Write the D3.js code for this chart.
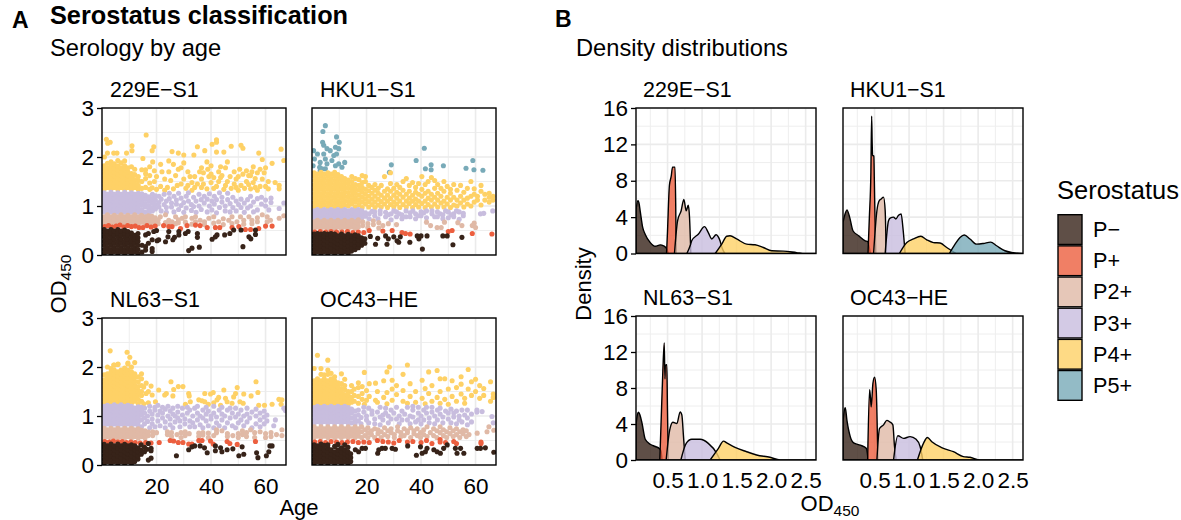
<!DOCTYPE html>
<html>
<head>
<meta charset="utf-8">
<script src="https://cdn.jsdelivr.net/npm/d3@7"></script>
<style>
body { margin: 0; background: white; }
text { font-family: "Liberation Sans", Arial, sans-serif; fill: #000; }
</style>
</head>
<body>
<div id="chart"></div>
<script>
const classNames = ["P−", "P+", "P2+", "P3+", "P4+", "P5+"];
const pointColors = ["#372319", "#EC5F3F", "#E0B9A6", "#C8BDDE", "#FED166", "#78AAB8"];
const facetNames = ["229E−S1", "HKU1−S1", "NL63−S1", "OC43−HE"];

// scatter rows are [age, od, od, ...]
const e229Neg = [[.8,.03,.11,.2,.28,.37,.45,.52],[2,.07,.15,.24,.32,.41,.49],[3.3,.03,.11,.2,.28,.37,.45,.52],[4.5,.07,.15,.24,.32,.41,.49],[5.8,.03,.11,.2,.28,.37,.45,.52],[7,.07,.15,.24,.32,.41,.49],[8.3,.03,.11,.2,.28,.37,.45,.51],[9.5,.07,.15,.24,.32,.41,.48],[10.8,.03,.11,.2,.28,.37,.45],[12,.07,.15,.24,.32,.4],[13.2,.03,.11,.2,.28,.35,.44],[14.7,.2,.06],[16,.41,.17,.1],[17,.44,.24],[18.4,.31,.07,.13],[19,.48],[20,.5],[20.2,.29],[20.8,.31],[23.3,.27],[24.5,.48],[24.2,.37],[26,.31],[26.6,.36],[28.2,.48,.41],[30.6,.44],[31.6,.48],[31.8,.09],[33,.14],[35,.44,.36],[35.7,.16],[40.4,.32],[41.6,.37],[42.2,.41],[45,.41],[46.9,.44],[48.3,.51],[51,.51],[51.7,.17],[53.9,.37],[54.6,.33],[56.3,.51,.42]];
const e229Pos = [[1,.58],[2.4,.6],[3.8,.57],[5.2,.59],[6.6,.61],[8,.57],[9.4,.6],[10.8,.58],[12.2,.59],[13.6,.56],[15,.56],[16.5,.6],[18,.57],[19.5,.59],[22.6,.6],[24.5,.58],[25.7,.58],[28.8,.54],[31.2,.6],[34.3,.61],[36,.6],[38.6,.56],[41.6,.56],[43.2,.56],[47.7,.56],[50.2,.58],[52.6,.52],[54.5,.52],[57.5,.54],[60,.59],[62.4,.59]];
const e229P2 = [[.8,.64,.71,.78],[2,.67,.74,.82],[3.3,.64,.71,.78],[4.5,.67,.74,.81],[5.8,.64,.71,.78],[7,.67,.74,.82],[8.3,.64,.71,.78],[9.5,.67,.74,.81],[10.8,.64,.71,.78],[12,.67,.74,.82],[13.3,.64,.71,.78],[14.5,.67,.74,.81],[15.8,.64,.71,.78],[17,.67,.74,.8],[18.3,.65,.72,.79],[19.5,.68,.76],[20.6,.64,.72],[21.4,.78],[23.3,.82,.66],[24.5,.71,.62],[25.7,.68],[27,.78,.64],[28,.66,.72],[29.4,.75],[30.6,.78,.67],[33,.75,.63],[34.3,.68,.78],[36,.71],[37.6,.68,.62],[39.2,.75],[41,.78,.65],[42.8,.68],[44.5,.62,.74],[46.5,.71],[47.7,.78,.64],[49.5,.68],[50.8,.78],[52,.71,.63],[53.9,.78],[55,.71,.64],[57,.68,.76],[58.8,.82],[60.6,.78,.68],[61.8,.71],[65,.75],[66.7,.8]];
const e229P3 = [[.8,.88,.96,1.04,1.12,1.2,1.27],[2,.84,.92,1,1.08,1.16,1.24],[3.3,.88,.96,1.04,1.12,1.2,1.28],[4.5,.84,.92,1,1.08,1.16,1.24],[5.8,.88,.96,1.04,1.12,1.2,1.27],[7,.84,.92,1,1.08,1.16,1.24],[8.3,.88,.96,1.04,1.12,1.2,1.28],[9.5,.84,.92,1,1.08,1.16,1.24],[10.8,.88,.96,1.04,1.12,1.2,1.27],[12,.84,.92,1,1.08,1.16,1.24],[13.3,.88,.96,1.04,1.12,1.2,1.26],[14.6,.84,.93,1.02,1.09,1.17,1.25],[15.9,.87,.98,1.05,1.14,1.22],[17.2,.85,.92,1.01,1.1,1.19],[18.5,.9,.97,1.06,1.15,1.24],[19.6,.94,1.03,1.12,1.21],[20.9,.98,1.07,1.2],[21.7,.9,1.14],[22.8,1.03,1.24],[23.6,.87,1.1,.97],[24.7,1.15,1.26],[25.5,.98,1.06],[26.4,.88,1.2],[27.3,1.04,1.12],[28.1,.93,1.26],[29,1.16,1.01],[30,.87,1.07],[30.9,1.2,.96],[31.7,1.1,1.27],[32.8,.91,1.03],[33.6,1.18,.99],[34.5,.87,1.1],[35.6,1.24,1],[36.4,.93,1.13],[37.5,1.06,1.2],[38.6,.88,1.14],[39.4,1,1.25],[40.3,.92,1.1],[41.2,1.2,1.04],[42,.86,1.13],[43.1,.97,1.27],[44,1.08,1.18],[45.2,.9,1],[46.1,1.13,1.26],[47,.88,1.05],[48,1.18,.97],[49.2,.9,1.1],[50.1,1.03],[51,1.14,.97],[52.2,.87,1.06],[53.4,1.13,.96],[54.5,1.2,1],[55.6,1.08,.88],[57,.92,1.15],[58.5,1.04,1.18],[60,1,1.12],[61.2,.92],[62,1.07,1.16],[65,.95],[66.7,1.06]];
const e229P4 = [[.8,1.34,1.42,1.5,1.58,1.66,1.74,1.82],[2,1.38,1.46,1.54,1.62,1.7,1.78,1.87],[3.3,1.34,1.42,1.5,1.58,1.66,1.74,1.82,1.9],[4.5,1.38,1.46,1.54,1.62,1.7,1.78,1.86],[5.8,1.34,1.42,1.5,1.58,1.66,1.74,1.82,1.93],[7,1.38,1.46,1.54,1.62,1.7,1.78,1.88],[8.3,1.34,1.42,1.5,1.58,1.66,1.74,1.82,1.92],[9.5,1.38,1.46,1.54,1.62,1.7,1.78],[10.8,1.34,1.42,1.5,1.58,1.66,1.8],[12,1.38,1.46,1.54,1.64,1.75],[13.3,1.34,1.42,1.52,1.6],[14.6,1.36,1.5,1.74],[16,1.38,1.74,1.56,1.66],[17.5,1.34,1.47,1.62,1.8],[1.6,2.36],[2.1,2.28],[3,2.3],[11,2.23,2.13],[16.2,2.45],[19,2.21],[18.4,2.13,1.37],[9,2.08],[5.5,2.08],[4.3,2.08],[2,2.08],[.9,2],[15,1.97],[18.6,1.9],[20,1.34,1.6],[21.5,1.4,1.85],[23,1.55,1.32],[24.5,1.7,1.92],[25.7,2.11],[26.2,1.85,1.35],[27,1.62],[28,2.08,1.75],[29,1.45,1.78],[30,2.04,1.55,1.88],[31.5,1.42,1.7],[32.3,1.6],[33,1.32,1.48],[33.7,2.04],[35,2.21,1.45],[35.8,1.7],[36.5,1.38,1.78,1.55],[37.7,2.13],[38.5,1.35,1.9],[39.2,1.6],[40,1.48,1.82,1.65],[40.4,2.26],[42,2.35,2.3,2.1,1.4],[43.5,1.58,1.8],[44.7,2.1,1.34],[46,1.5,1.9],[47.4,2.22,1.36],[48.5,1.7,1.45],[50,1.6,1.32],[51,2.24,1.42],[51.7,2.18,1.65],[53,1.72,1.5],[54.5,1.35,1.62],[55.5,1.8,1.48],[57,1.32,1.68],[57.5,2.08],[58.8,1.95,1.55],[60,1.4,1.78],[62.4,1.87],[63.5,1.48],[65,1.35,1.42],[65.7,2.16],[66.7,1.93],[19.2,1.72,1.5],[22,1.7],[24,1.38],[25.2,1.52],[27.6,1.42],[30.8,1.36],[34,1.6,1.38],[37.2,1.45,1.68],[38.8,1.75],[41,1.36,1.58],[42.8,1.7,1.5],[44,1.62],[45.3,1.42,1.78],[47,1.6],[49.2,1.55,1.38],[50.5,1.75],[52.3,1.36],[53.8,1.62,1.44],[55,1.7],[56.2,1.38,1.56],[58,1.4,1.75],[59.5,1.68],[61,1.5,1.35]];

const hkuNeg = [[.8,.03,.11,.19,.27,.35,.43],[2,.07,.15,.23,.31,.39,.44],[3.3,.03,.11,.19,.27,.35,.43],[4.5,.07,.15,.23,.31,.39,.44],[5.8,.03,.11,.19,.27,.35,.43],[7,.07,.15,.23,.31,.39,.44],[8.3,.03,.11,.19,.27,.35,.43],[9.5,.07,.15,.23,.31,.39],[10.8,.03,.11,.19,.27,.35,.43],[12,.07,.15,.23,.31,.39],[13.3,.04,.11,.19,.27,.35,.42],[14.5,.08,.15,.23,.31,.39],[15.8,.11,.19,.27,.35,.41],[17,.15,.23,.31,.39],[18.2,.2,.27,.35],[19.4,.24,.33],[21.4,.38],[23.3,.22],[24.1,.34],[27,.39],[27.5,.22],[28,.33],[30,.37],[31.2,.29],[31.8,.26],[32.4,.37],[35.9,.26],[38.6,.39],[39.2,.33],[40,.39],[40.5,.12],[42.2,.39],[48,.39],[49.6,.39],[51.7,.21],[55,.36]];
const hkuPos = [[1,.47],[3,.48],[5,.47],[7,.48],[9,.47],[11,.47],[13,.48],[15,.46],[17,.47],[19,.46],[21,.5],[26,.49],[29.4,.5],[33,.46],[34.3,.44],[36,.43],[50,.48],[51.4,.5],[58.8,.44],[66,.43]];
const hkuP2 = [[.8,.54,.61,.68],[2,.57,.64,.71],[3.3,.54,.61,.68],[4.5,.57,.64,.71],[5.8,.54,.61,.68],[7,.57,.64,.71],[8.3,.54,.61,.68],[9.5,.57,.64,.71],[10.8,.54,.61,.68],[12,.57,.64,.71],[13.3,.54,.61,.68],[14.6,.57,.64,.71],[15.8,.54,.61,.68],[17,.57,.66,.72],[18.6,.6,.68],[20.5,.56,.64],[22.5,.62,.7],[24.5,.55,.66],[26,.6],[28,.64],[31,.62],[42,.67],[43.5,.6],[45.9,.56],[47.4,.56],[48.6,.67],[53.5,.66],[55,.6],[58.8,.6],[60,.56],[59.5,.65]];
const hkuP3 = [[.8,.76,.83,.9],[2,.79,.86,.93],[3.3,.76,.83,.9],[4.5,.79,.86,.93],[5.8,.76,.83,.9],[7,.79,.86,.93],[8.3,.76,.83,.9],[9.5,.79,.86,.93],[10.8,.76,.83,.9],[12,.79,.86,.93],[13.3,.76,.83,.9],[14.6,.79,.86,.93],[15.8,.76,.83,.9],[17,.79,.86,.93],[18.3,.76,.83,.9],[19.6,.79,.86],[21,.74,.84],[22,.89],[23,.8,.88],[24.2,.74],[25,.84,.9],[27,.78,.87],[28,.82],[29,.72,.84],[30,.9],[31,.88,.78],[32,.84],[33,.82,.74],[34.5,.9,.78],[36,.78,.86],[37,.9],[38,.84,.74],[39,.8],[40,.88,.8],[41,.86],[42,.76,.9],[44,.84,.9],[45,.78],[46,.78,.88],[47,.84],[48,.82,.74],[49,.9],[50,.88,.76],[51,.82],[52,.84,.78],[53,.9],[54,.88,.73],[55.5,.8,.85],[61.8,.84],[63,.85],[66.3,.9]];
const hkuP4 = [[.8,.98,1.07,1.16,1.25,1.34,1.43,1.52,1.61,1.68],[2,1.02,1.11,1.2,1.29,1.38,1.47,1.56,1.65],[3.3,.98,1.07,1.16,1.25,1.34,1.43,1.52,1.61,1.69],[4.5,1.02,1.11,1.2,1.29,1.38,1.47,1.56,1.65],[5.8,.98,1.07,1.16,1.25,1.34,1.43,1.52,1.61,1.68],[7,1.02,1.11,1.2,1.29,1.38,1.47,1.56,1.65],[8.3,.98,1.07,1.16,1.25,1.34,1.43,1.52,1.61,1.69],[9.5,1.02,1.11,1.2,1.29,1.38,1.47,1.56,1.64],[10.8,.98,1.07,1.16,1.25,1.34,1.43,1.52,1.6],[12,1.02,1.11,1.2,1.29,1.38,1.47,1.56],[13.3,1,1.09,1.18,1.27,1.36,1.45,1.53],[14.6,1.04,1.13,1.22,1.31,1.4,1.5,1.6],[15.9,.98,1.08,1.17,1.26,1.35,1.44,1.56],[17.2,1.03,1.12,1.22,1.32,1.42,1.54],[18.4,.97,1.08,1.18,1.28,1.38,1.48,1.62],[19.6,1.04,1.14,1.24,1.34,1.5,1.6],[20.8,.98,1.09,1.2,1.31,1.42],[22,1.03,1.14,1.26,1.38],[23.1,.97,1.08,1.2,1.32,1.44],[24.3,1.02,1.14,1.26,1.36],[25.4,.98,1.09,1.22,1.42],[26.6,1.04,1.16,1.3,1.6],[27.7,.97,1.1,1.22,1.35],[28.8,1.03,1.15,1.3,1.46,1.68],[30,.98,1.08,1.22,1.36],[31.1,1.04,1.16,1.28,1.44],[32.2,.97,1.1,1.24,1.38],[33.4,1.03,1.18,1.32,1.5],[34.6,.98,1.1,1.24,1.56],[35.7,1.05,1.16,1.3,1.42],[36.9,.97,1.1,1.22,1.48],[38,1.03,1.14,1.28,1.38],[39.1,.98,1.1,1.24,1.46],[40.3,1.05,1.2,1.34,1.6],[41.5,.97,1.1,1.26,1.44],[42.6,1.03,1.16,1.3,1.5],[43.8,.98,1.12,1.24,1.58],[45,1.04,1.18,1.36,1.52],[46.1,.98,1.12,1.26,1.44],[47.3,1.06,1.2,1.36],[48.4,.98,1.1,1.3,1.5],[49.6,1.04,1.18,1.4],[50.8,.97,1.12,1.26,1.34],[52,1.02,1.18,1.44],[53.2,1,1.12,1.32],[54.5,1.06,1.2,1.42],[55.7,.98,1.12,1.28],[57,1.04,1.16,1.36],[58.3,1,1.2,1.5],[59.5,1.08,1.24,1.35],[60.7,1.12,1.2],[62,1.02,1.3,1.42],[63.4,1.12,1.24],[65,1.08,1.26,1.18],[66.4,1.12,1.2]];
const hkuP5 = [[4.9,2.64,1.96,1.76],[4,2.52],[9,2.41],[3.9,2.3],[4.3,2.24,2.06],[10,2.3],[5.5,2.17,1.86],[6.7,2.13],[8.6,2.2,1.82],[9.8,2.17,1.86],[.6,2.13],[2,2.06],[8,2.03],[9,2.06],[.9,1.96],[7.3,1.93],[3,1.89,1.72],[.4,1.82],[2.8,1.79],[3.7,1.76],[12,1.89],[11,1.79],[29.1,1.84],[28.4,1.69],[38.2,1.93],[41.2,2.18],[43.7,1.84,1.74],[41.6,1.76],[48.2,1.82],[56.5,1.77],[59,1.93],[59.4,1.74],[62.7,1.73]];

const nlNeg = [[.8,.03,.11,.19,.27,.35,.42],[2,.07,.15,.23,.31,.39],[3.3,.03,.11,.19,.27,.35,.43],[4.5,.07,.15,.23,.31,.39],[5.8,.03,.11,.19,.27,.35,.43],[7,.07,.15,.23,.31,.39],[8.3,.03,.11,.19,.27,.35,.42],[9.5,.07,.15,.23,.31,.39],[10.8,.03,.11,.19,.27,.35,.41],[12,.07,.15,.23,.31,.39],[13.2,.12,.19,.27,.35],[14.4,.22,.3,.41],[15.6,.27,.36],[16.5,.32],[17,.44,.1],[18,.34,.29,.14],[27.3,.19],[31.8,.31],[33,.37],[34,.39],[36,.39],[37.6,.35],[38.6,.25],[41.6,.39,.29],[43.5,.35],[44,.27],[45.9,.31],[48,.33],[50.2,.19],[51.4,.37],[52,.22],[56.7,.25],[57.2,.15],[60.3,.19],[61.2,.27],[61.6,.39],[62.4,.39]];
const nlPos = [[1,.48],[2.6,.47],[4.2,.49],[5.8,.47],[7.4,.48],[9,.46],[10.6,.47],[12.2,.46],[14,.45],[16,.46],[18,.45],[21,.46],[25,.5],[26.3,.49],[28,.46],[29.7,.46],[31.8,.43],[33,.43],[35.5,.5],[36.7,.5],[39.8,.49],[40.8,.43],[45.9,.48],[46.9,.44],[49.6,.42],[56.3,.48]];
const nlP2 = [[.8,.55,.62,.69,.75],[2,.58,.65,.72],[3.3,.55,.62,.69,.75],[4.5,.58,.65,.72],[5.8,.55,.62,.69,.75],[7,.58,.65,.72],[8.3,.55,.62,.69,.75],[9.5,.58,.65,.72],[10.8,.55,.62,.69,.75],[12,.58,.65,.72],[13.3,.55,.62,.69,.74],[14.6,.58,.65,.71],[15.8,.55,.62,.7],[17,.6,.67],[18.6,.6,.68],[20,.66],[24,.62,.68],[25.5,.66,.58],[27.5,.62],[29,.56,.66],[30.5,.68,.6],[32,.64],[35.5,.58,.65],[37,.66,.61],[39,.65,.56],[41,.6],[42,.72,.66],[44,.7],[46,.58,.64],[48,.6],[50,.64,.56],[51.5,.7,.62],[53,.66,.58],[54.5,.72],[56,.66,.56],[58,.68],[60,.56,.64],[62,.58,.66],[64,.62],[66,.72,.6]];
const nlP3 = [[.8,.8,.88,.96,1.04,1.12,1.2],[2,.84,.92,1,1.08,1.16,1.22],[3.3,.8,.88,.96,1.04,1.12,1.2],[4.5,.84,.92,1,1.08,1.16,1.23],[5.8,.8,.88,.96,1.04,1.12,1.2],[7,.84,.92,1,1.08,1.16,1.23],[8.3,.8,.88,.96,1.04,1.12,1.2],[9.5,.84,.92,1,1.08,1.16,1.22],[10.8,.8,.88,.96,1.04,1.12,1.2],[12,.84,.92,1,1.08,1.16],[13.3,.8,.88,.96,1.04,1.12,1.19],[14.5,.78,.92,1.02,1.1,1.18],[15.6,.84,.96,1.06,1.16],[16.7,.89,1],[17.5,.76,1.1,1.2],[18.4,.84,.94,1.04],[19.4,.78,1.12,1.18],[20.5,.9,1.02,1.22],[21.3,.8,1.1],[22.2,.96,1.18,1.06],[23.2,.76,.88,1.14],[24.2,1,1.2],[25,.82,.94,1.1],[26,.76,1.04,1.16],[26.8,.88,1],[27.8,.96,1.2,1.08],[28.6,.78,.9],[29.5,1.02,1.16],[30.4,.84,.94],[31.3,1.06,1.18],[32.2,.78,.9,1.12],[33.3,.86,1],[34,1.16,.78],[35,.92,1.06,1.2],[36,.82,1],[37,.96,1.12,.76],[38.2,.9,1.04,1.18],[39,.8,1.1],[40,.94,1],[41,.76,1.06,1.2],[42,.86,.98],[43,.8,1.12],[44,.92,1.04,1.18],[45,.76,1],[46,.86,1.12],[47,.96,1.16],[47.8,.8,1.06],[49,.76,.98,1.16],[50,.86,1.04],[51,.92,1.12],[52,.8,1],[53.2,.88,1.04,1.16],[54.2,.96],[55,.76,1.08],[56.5,.84,1,1.14],[58,.78,.92,1.06],[59.5,.84,.98,1.1],[60.5,.9,1.02],[63,.8],[63.6,.92],[66.7,1.16],[67.3,1.11]];
const nlP4 = [[.8,1.26,1.34,1.42,1.5,1.58,1.66,1.74,1.84],[2,1.3,1.38,1.46,1.54,1.62,1.7,1.78,1.86,2],[3.3,1.26,1.34,1.42,1.5,1.58,1.66,1.74,1.82,1.9,1.97],[4.5,1.3,1.38,1.46,1.54,1.62,1.7,1.78,1.86,1.94,2.04],[5.8,1.26,1.34,1.42,1.5,1.58,1.66,1.74,1.82,1.9,2.05],[7,1.3,1.38,1.46,1.54,1.62,1.7,1.78,1.86,1.94],[8.3,1.26,1.34,1.42,1.5,1.58,1.66,1.74,1.82,1.9,1.98],[9.5,1.3,1.38,1.46,1.54,1.62,1.7,1.78,1.86,1.94,2.06],[10.8,1.26,1.34,1.42,1.5,1.58,1.66,1.74,1.82,1.9,2],[12,1.3,1.38,1.46,1.54,1.62,1.7,1.78,1.86,2.09],[13.3,1.25,1.34,1.44,1.52,1.6,1.7,1.8],[14.5,1.3,1.42,1.5,1.62,1.76,1.86],[3,2.33],[9.2,2.3],[10.2,2.2],[9.5,2.08],[4.3,2.04],[5.9,2.06],[16.2,1.67,1.46],[15.3,1.59,1.25],[17,1.27,1.5],[18,1.61],[18.4,1.43],[19.6,1.29],[20.8,1.53],[23,1.43],[23.6,1.46],[25.3,1.7],[26.3,1.54],[26,1.41],[28,1.6],[29.7,1.6],[31.8,1.46],[32,1.41],[30.6,1.24],[32.4,1.29],[35.5,1.33],[36.7,1.31],[37.7,1.46,1.29],[39.8,1.45],[39,1.24],[40.8,1.48],[41,1.27],[42.2,1.33],[42.8,1.38],[44.7,1.53],[43.5,1.22],[45.3,1.36],[45.9,1.29],[48.3,1.39],[49,1.46],[49.6,1.58],[47.7,1.26],[50.6,1.29],[52,1.45],[51.8,1.26],[54.7,1.41],[56.5,1.7],[57.2,1.48],[57.5,1.22],[59.6,1.22],[62.4,1.24],[64.9,1.34],[66,1.33],[65.7,1.24]];

const ocNeg = [[.8,.03,.11,.19,.27,.35,.41],[2,.07,.15,.23,.31,.39],[3.3,.03,.11,.19,.27,.35,.43],[4.5,.07,.15,.23,.31,.4],[5.8,.03,.11,.19,.27,.35,.41],[7,.07,.15,.23,.31],[8.3,.03,.11,.19,.27,.38],[9.5,.07,.15,.23,.31,.42],[10.8,.03,.11,.19,.27,.35],[12,.07,.15,.23,.31,.41],[13.2,.03,.1,.19,.27,.36],[14.2,.07,.15,.23],[15.9,.31],[17.1,.27],[18.4,.34],[19.6,.34],[24.5,.31],[24.1,.24],[25.7,.34],[26.9,.34],[29.4,.34],[30.6,.32],[35.1,.39],[38.3,.2],[39.8,.37],[40.4,.24],[41.6,.27],[42.2,.34],[44.7,.31],[45.9,.27],[47.1,.24],[48.3,.34],[49.6,.41],[52.6,.34],[53.2,.24],[54.5,.34],[55.7,.24],[60.6,.34],[61.8,.34],[63.6,.35],[66.7,.26]];
const ocPos = [[1,.47],[3,.48],[5,.46],[7,.48],[9,.47],[11,.46],[13,.47],[15,.48],[17,.46],[19,.47],[21,.46],[24,.5],[26,.48],[28,.47],[30,.45],[32,.5],[35,.47],[37,.48],[40,.46],[42,.5],[44,.44],[47,.52,.47],[49,.46],[52,.48],[53,.44],[62,.47,.44]];
const ocP2 = [[.8,.56,.63,.7,.78],[2,.59,.66,.74],[3.3,.56,.63,.7,.78],[4.5,.59,.66,.74],[5.8,.56,.63,.7,.78],[7,.59,.66,.74],[8.3,.56,.63,.7,.78],[9.5,.59,.66,.74],[10.8,.56,.63,.7,.78],[12,.59,.66,.74],[13.3,.56,.63,.7,.78],[14.6,.59,.66,.74],[15.8,.56,.63,.7,.78],[17,.59,.65,.74],[18.2,.56,.68,.78],[19.4,.6,.72],[20.5,.56,.66,.76],[21.8,.62,.7],[23,.56,.74],[24.2,.64,.72],[25.4,.56,.68],[26.6,.62,.76],[27.8,.58,.7],[29,.66,.74],[30.2,.56,.62],[31.4,.7,.78],[32.6,.58,.66],[33.8,.74,.6],[35,.66,.7],[36.2,.56,.76],[37.4,.64,.7],[38.6,.6,.74],[39.8,.66,.56],[41,.72,.62],[42.2,.58,.78],[43.4,.66],[44.6,.6,.74],[45.8,.7,.56],[47,.66,.78],[48.2,.6,.72],[49.4,.56,.68],[50.6,.64,.76],[51.8,.58,.7],[53,.62,.74],[54.2,.56,.68],[55.4,.64,.72],[56.6,.58,.7],[57.6,.62],[60.6,.65],[64.2,.68],[64.9,.78],[66.7,.71]];
const ocP3 = [[.8,.85,.93,1.01,1.09,1.17],[2,.89,.97,1.05,1.13,1.2],[3.3,.85,.93,1.01,1.09,1.17],[4.5,.89,.97,1.05,1.13,1.2],[5.8,.85,.93,1.01,1.09,1.17],[7,.89,.97,1.05,1.13,1.2],[8.3,.85,.93,1.01,1.09,1.17],[9.5,.89,.97,1.05,1.13,1.2],[10.8,.85,.93,1.01,1.09,1.17],[12,.89,.97,1.05,1.13,1.2],[13.3,.85,.93,1.01,1.09,1.17],[14.5,.86,.96,1.06,1.14],[15.8,.84,.92,1,1.1],[17,.9,1.02,1.12],[18,.84,.97],[19,1.08,1.18],[20,.92,1],[20.8,.86,1.16],[22,1.04,1.1],[23,.94,.84],[24,1.08],[25,.82,.98,1.18],[26,.92,1.02],[27,1.06,1.16],[28,.86,1],[29,1.12,.94],[30,1.06],[31,.94,1.18],[32,.84,1],[33,1.1,.92],[34,1.04],[35,.92,1.18],[36,.84,1],[37,.98,1.12,1.2],[38,.88],[39,.92,1.06,1.18],[40,.84,1],[41,.92,1.12],[42,1.06,1.18],[43,.96,.86],[44,1.08,1.18],[45,.84,1],[46,.92,1.12],[47,1.04,1.16],[48,.86,.98],[49,1.1],[50,.94,1.06],[51,.86,1.14],[52,.98,1.06],[53,.84,1.1],[54,.92,1],[55,.88,1.12],[56,1.02],[57,.82,.96,1.12],[58.5,.88,1.04],[60.5,1.08,1.12],[62.4,1.09],[66,.99],[66.5,.86]];
const ocP4 = [[.8,1.24,1.32,1.4,1.48,1.56,1.64,1.72,1.97],[2,1.28,1.36,1.44,1.52,1.6,1.68,1.76,2.24],[3.3,1.24,1.32,1.4,1.48,1.56,1.64,1.72,1.85,1.97],[4.5,1.28,1.36,1.44,1.52,1.6,1.68,1.76,1.84],[5.8,1.24,1.32,1.4,1.48,1.56,1.64,1.72,1.85,1.94,2.14],[7,1.28,1.36,1.44,1.52,1.6,1.68,1.76,1.87],[8.3,1.24,1.32,1.4,1.48,1.56,1.64,1.72,1.8],[9.5,1.28,1.36,1.44,1.52,1.6,1.68],[10.8,1.24,1.32,1.4,1.48,1.56,1.66,1.86],[12,1.28,1.36,1.44,1.54,1.62,1.75],[13.3,1.24,1.32,1.42,1.5],[14.5,1.28,1.38,1.5,1.62],[15.5,1.3,1.42,1.55],[17,1.26,1.4,1.58,1.68],[18.4,1.34,1.46,1.6],[19.2,1.89,1.24],[20,1.32,1.52],[21,1.4,1.66],[23.3,1.67,1.32],[24,1.28,1.5],[26.3,1.72,1.38],[27.5,1.9,1.25,1.48],[28.4,2],[29.4,1.73,1.32,1.55],[31,1.44,1.62],[33.4,1.85,1.3,1.52],[35,2.04,1.26],[36,1.66,1.4],[38,1.28,1.5],[40.4,1.73,1.36],[41.5,1.25,1.56],[42.8,1.9,1.46],[44,1.3,1.62],[45.9,1.93,1.38],[47,1.76,1.26,1.5],[48.7,1.76,1.34],[50,1.55,1.24],[51.4,1.72,1.4],[53,1.3,1.58],[54.7,1.8,1.45,1.65],[56,1.26,1.36],[57.3,1.95,1.55],[58.5,1.42,1.7],[60,1.75,1.5],[61.5,1.62,1.36],[63,1.56,1.42],[65.5,1.7,1.3],[66.5,1.38,1.45]];

// density curves are [od, density]
const d229 = [
  [[.043,4.8],[.071,5.8],[.085,5.6],[.105,4.6],[.139,2.9],[.177,2.1],[.25,1.2],[.322,.8],[.394,.95],[.442,.85],[.49,.5],[.51,0]],
  [[.485,0],[.497,2],[.527,7.5],[.553,8.5],[.572,9.5],[.608,9.5],[.618,5.5],[.625,0]],
  [[.6,0],[.645,3.6],[.697,4.7],[.736,5.95],[.77,4.7],[.8,5.3],[.818,4],[.837,0]],
  [[.78,0],[.83,.9],[.85,1.4],[.948,2.15],[1.035,2.95],[1.09,2.3],[1.14,1.6],[1.203,2.07],[1.26,1.4],[1.29,.6],[1.33,0]],
  [[1.19,0],[1.285,1.03],[1.357,1.9],[1.405,1.95],[1.5,1.6],[1.646,1.03],[1.767,.96],[1.887,.66],[2.008,.3],[2.176,.26],[2.37,.1],[2.49,0],[2.65,0]]
];
const dHku = [
  [[.043,3.4],[.075,4.4],[.1,4.8],[.139,4],[.187,2.5],[.269,1.96],[.365,1.4],[.404,1.3],[.425,.6],[.44,0]],
  [[.405,0],[.425,4],[.447,9],[.458,15.1],[.466,12],[.472,10.8],[.49,10.7],[.497,8],[.506,4],[.518,0]],
  [[.486,0],[.534,4.7],[.567,5.8],[.596,6],[.63,6.2],[.654,4.7],[.668,0]],
  [[.654,0],[.702,3.6],[.726,3.9],[.775,4],[.808,3.8],[.847,4.2],[.885,4.35],[.91,2.9],[.943,0]],
  [[.86,0],[.967,1.2],[1.064,1.6],[1.17,1.9],[1.256,1.5],[1.353,1.2],[1.449,1.15],[1.545,.66],[1.618,.3],[1.68,0]],
  [[1.584,0],[1.666,1.03],[1.738,1.77],[1.8,2.03],[1.882,1.6],[1.979,1.03],[2.075,1.1],[2.181,1.25],[2.268,.85],[2.388,.3],[2.509,.1],[2.65,0]]
];
const dNl = [
  [[.043,3.9],[.062,5],[.08,5.3],[.1,5],[.13,4.1],[.177,2.3],[.25,1.75],[.322,1.5],[.384,1.25],[.405,1],[.42,0]],
  [[.388,0],[.41,5],[.43,9.5],[.452,13],[.462,9],[.468,10.5],[.49,10.6],[.498,6],[.51,0]],
  [[.48,0],[.53,3.3],[.577,4.2],[.635,4.05],[.683,5.35],[.707,5],[.731,2.6],[.755,0]],
  [[.693,0],[.77,1.85],[.85,2.3],[.972,2.3],[1.09,1.85],[1.213,.74],[1.26,0]],
  [[1.117,0],[1.237,1.3],[1.31,2.1],[1.357,1.9],[1.478,1.4],[1.646,.92],[1.79,.55],[1.984,.3],[2.13,0],[2.65,0]]
];
const dOc = [
  [[.043,4.3],[.065,5.6],[.076,5.8],[.1,4.4],[.148,2.6],[.197,1.9],[.293,1.65],[.38,1.3],[.395,.8],[.405,0]],
  [[.4,0],[.428,7.8],[.44,7],[.452,5.9],[.476,8.5],[.5,9.2],[.524,7.8],[.548,0]],
  [[.534,0],[.572,3.5],[.63,3.9],[.678,4.4],[.717,4.25],[.765,3.9],[.789,1.5],[.813,0]],
  [[.775,0],[.837,2.7],[.919,2.4],[1.015,2.6],[1.102,2.3],[1.16,1.5],[1.198,0]],
  [[1.121,0],[1.208,1.85],[1.266,2.5],[1.329,2.03],[1.497,1.3],[1.642,.92],[1.786,.37],[1.882,.3],[2.03,0],[2.65,0]]
];

const scatterSets = [
  [e229Neg, e229Pos, e229P2, e229P3, e229P4],
  [hkuNeg, hkuPos, hkuP2, hkuP3, hkuP4, hkuP5],
  [nlNeg, nlPos, nlP2, nlP3, nlP4],
  [ocNeg, ocPos, ocP2, ocP3, ocP4]
];
const densitySets = [d229, dHku, dNl, dOc];

const ageTicks = [20, 40, 60], ageMinor = [10, 30, 50];
const odTicks = [0, 1, 2, 3], odMinor = [.5, 1.5, 2.5];
const densTicks = [0, 4, 8, 12, 16], densMinor = [2, 6, 10, 14];
const odXTicks = [.5, 1, 1.5, 2, 2.5], odXMinor = [.25, .75, 1.25, 1.75, 2.25];

const svg = d3.select("#chart").append("svg").attr("width", 1181).attr("height", 520);
const tickFont = 22.5, stripFont = 21.4;

function label(x, y, str, size, weight) {
  return svg.append("text").attr("x", x).attr("y", y).attr("font-size", size)
    .attr("font-weight", weight || "normal").text(str);
}

// one facet: grid, axes, border. the marks go in through drawMarks
function panel(box, i, cfg, drawMarks) {
  const x = d3.scaleLinear().domain(cfg.xDomain).range([box.x0, box.x1]);
  const y = d3.scaleLinear().domain(cfg.yDomain).range([box.y1, box.y0]);
  const g = svg.append("g");
  cfg.xMinor.forEach(v => g.append("line").attr("x1", x(v)).attr("x2", x(v)).attr("y1", box.y0).attr("y2", box.y1).attr("stroke", "#eeeeee").attr("stroke-width", 1));
  cfg.yMinor.forEach(v => g.append("line").attr("y1", y(v)).attr("y2", y(v)).attr("x1", box.x0).attr("x2", box.x1).attr("stroke", "#eeeeee").attr("stroke-width", 1));
  cfg.xTicks.forEach(v => g.append("line").attr("x1", x(v)).attr("x2", x(v)).attr("y1", box.y0).attr("y2", box.y1).attr("stroke", "#ebebeb").attr("stroke-width", 1.6));
  cfg.yTicks.forEach(v => g.append("line").attr("y1", y(v)).attr("y2", y(v)).attr("x1", box.x0).attr("x2", box.x1).attr("stroke", "#ebebeb").attr("stroke-width", 1.6));

  const clipId = "clip" + cfg.id + i;
  svg.append("clipPath").attr("id", clipId).append("rect")
    .attr("x", box.x0).attr("y", box.y0).attr("width", box.x1 - box.x0).attr("height", box.y1 - box.y0);
  drawMarks(svg.append("g").attr("clip-path", `url(#${clipId})`), x, y);

  svg.append("rect").attr("x", box.x0).attr("y", box.y0).attr("width", box.x1 - box.x0).attr("height", box.y1 - box.y0)
    .attr("fill", "none").attr("stroke", "#000").attr("stroke-width", 1.4);

  if (i % 2 == 0) {
    const ax = svg.append("g").attr("transform", `translate(${box.x0},0)`)
      .call(d3.axisLeft(y).tickValues(cfg.yTicks).tickFormat(d3.format("d")).tickSize(5).tickPadding(3));
    styleAxis(ax);
  }
  if (i >= 2) {
    const ax = svg.append("g").attr("transform", `translate(0,${box.y1})`)
      .call(d3.axisBottom(x).tickValues(cfg.xTicks).tickFormat(cfg.xFormat).tickSize(0).tickPadding(cfg.xPad));
    styleAxis(ax);
    ax.selectAll("line").remove();
  }
  label(box.x0 + cfg.stripDx, box.y0 - 11, facetNames[i], stripFont);
}

function styleAxis(ax) {
  ax.select(".domain").remove();
  ax.selectAll("line").attr("stroke", "#000").attr("stroke-width", 1.3);
  ax.selectAll("text").attr("font-size", tickFont).attr("font-family", "Liberation Sans").attr("fill", "#000");
}

// A: scatter panels
const boxesA = [
  {x0: 102, x1: 286, y0: 108, y1: 255},
  {x0: 312, x1: 496, y0: 108, y1: 255},
  {x0: 102, x1: 286, y0: 318, y1: 465},
  {x0: 312, x1: 496, y0: 318, y1: 465}
];
const cfgA = {id: "a", xDomain: [0, 67.5], yDomain: [0, 3], xTicks: ageTicks, xMinor: ageMinor, yTicks: odTicks, yMinor: odMinor,
  xFormat: d3.format("d"), xPad: 13, stripDx: 8};

boxesA.forEach((box, i) => {
  panel(box, i, cfgA, (g, x, y) => {
    // upper classes first so the dark block stays on top
    const order = scatterSets[i].map((rows, k) => k).reverse();
    order.forEach(k => {
      const pts = scatterSets[i][k].flatMap(([age, ...ods]) => ods.map(od => ({age, od})));
      g.selectAll(null).data(pts).join("circle")
        .attr("cx", d => x(d.age)).attr("cy", d => y(d.od)).attr("r", 2.55)
        .attr("fill", pointColors[k]);
    });
  });
});

// B: density panels
const boxesB = [
  {x0: 636, x1: 816, y0: 108, y1: 253.5},
  {x0: 843, x1: 1023, y0: 108, y1: 253.5},
  {x0: 636, x1: 816, y0: 316, y1: 460},
  {x0: 843, x1: 1023, y0: 316, y1: 460}
];
const cfgB = {id: "b", xDomain: [.043, 2.65], yDomain: [0, 16], xTicks: odXTicks, xMinor: odXMinor, yTicks: densTicks, yMinor: densMinor,
  xFormat: d3.format(".1f"), xPad: 12, stripDx: 7};

boxesB.forEach((box, i) => {
  panel(box, i, cfgB, (g, x, y) => {
    const area = d3.area().x(d => x(d[0])).y0(y(0)).y1(d => y(d[1])).curve(d3.curveMonotoneX);
    densitySets[i].forEach((curve, k) => {
      g.append("path").attr("d", area(curve))
        .attr("fill", pointColors[k]).attr("fill-opacity", .8)
        .attr("stroke", "#000").attr("stroke-width", 1.4).attr("stroke-linejoin", "round");
    });
  });
});

// titles
label(12, 28, "A", 23, "bold");
label(50, 24, "Serostatus classification", 25.3, "bold");
label(50, 56, "Serology by age", 23.7);
label(555, 27, "B", 23, "bold");
label(576, 56, "Density distributions", 23.7);

svg.append("text").attr("x", 299).attr("y", 515).attr("text-anchor", "middle").attr("font-size", 22).text("Age");

const yTitle = svg.append("text").attr("transform", "translate(66,284) rotate(-90)").attr("text-anchor", "middle").attr("font-size", 22);
yTitle.append("tspan").text("OD");
yTitle.append("tspan").attr("font-size", 15.5).attr("dy", 5).text("450");

svg.append("text").attr("transform", "translate(591,284) rotate(-90)").attr("text-anchor", "middle").attr("font-size", 22).text("Density");

const xTitle = svg.append("text").attr("x", 830).attr("y", 511).attr("text-anchor", "middle").attr("font-size", 22);
xTitle.append("tspan").text("OD");
xTitle.append("tspan").attr("font-size", 15.5).attr("dy", 5).text("450");

// legend
label(1057, 199, "Serostatus", 25.5);
const keyY = d3.scaleBand().domain(classNames).range([214, 401]);
classNames.forEach((name, k) => {
  svg.append("rect").attr("x", 1058).attr("y", keyY(name) + .7).attr("width", 24).attr("height", keyY.bandwidth() - 1.4)
    .attr("fill", pointColors[k]).attr("fill-opacity", .8).attr("stroke", "#000").attr("stroke-width", 1.4);
  label(1093, keyY(name) + keyY.bandwidth() / 2 + 7.5, name, 21.6);
});
</script>
</body>
</html>
